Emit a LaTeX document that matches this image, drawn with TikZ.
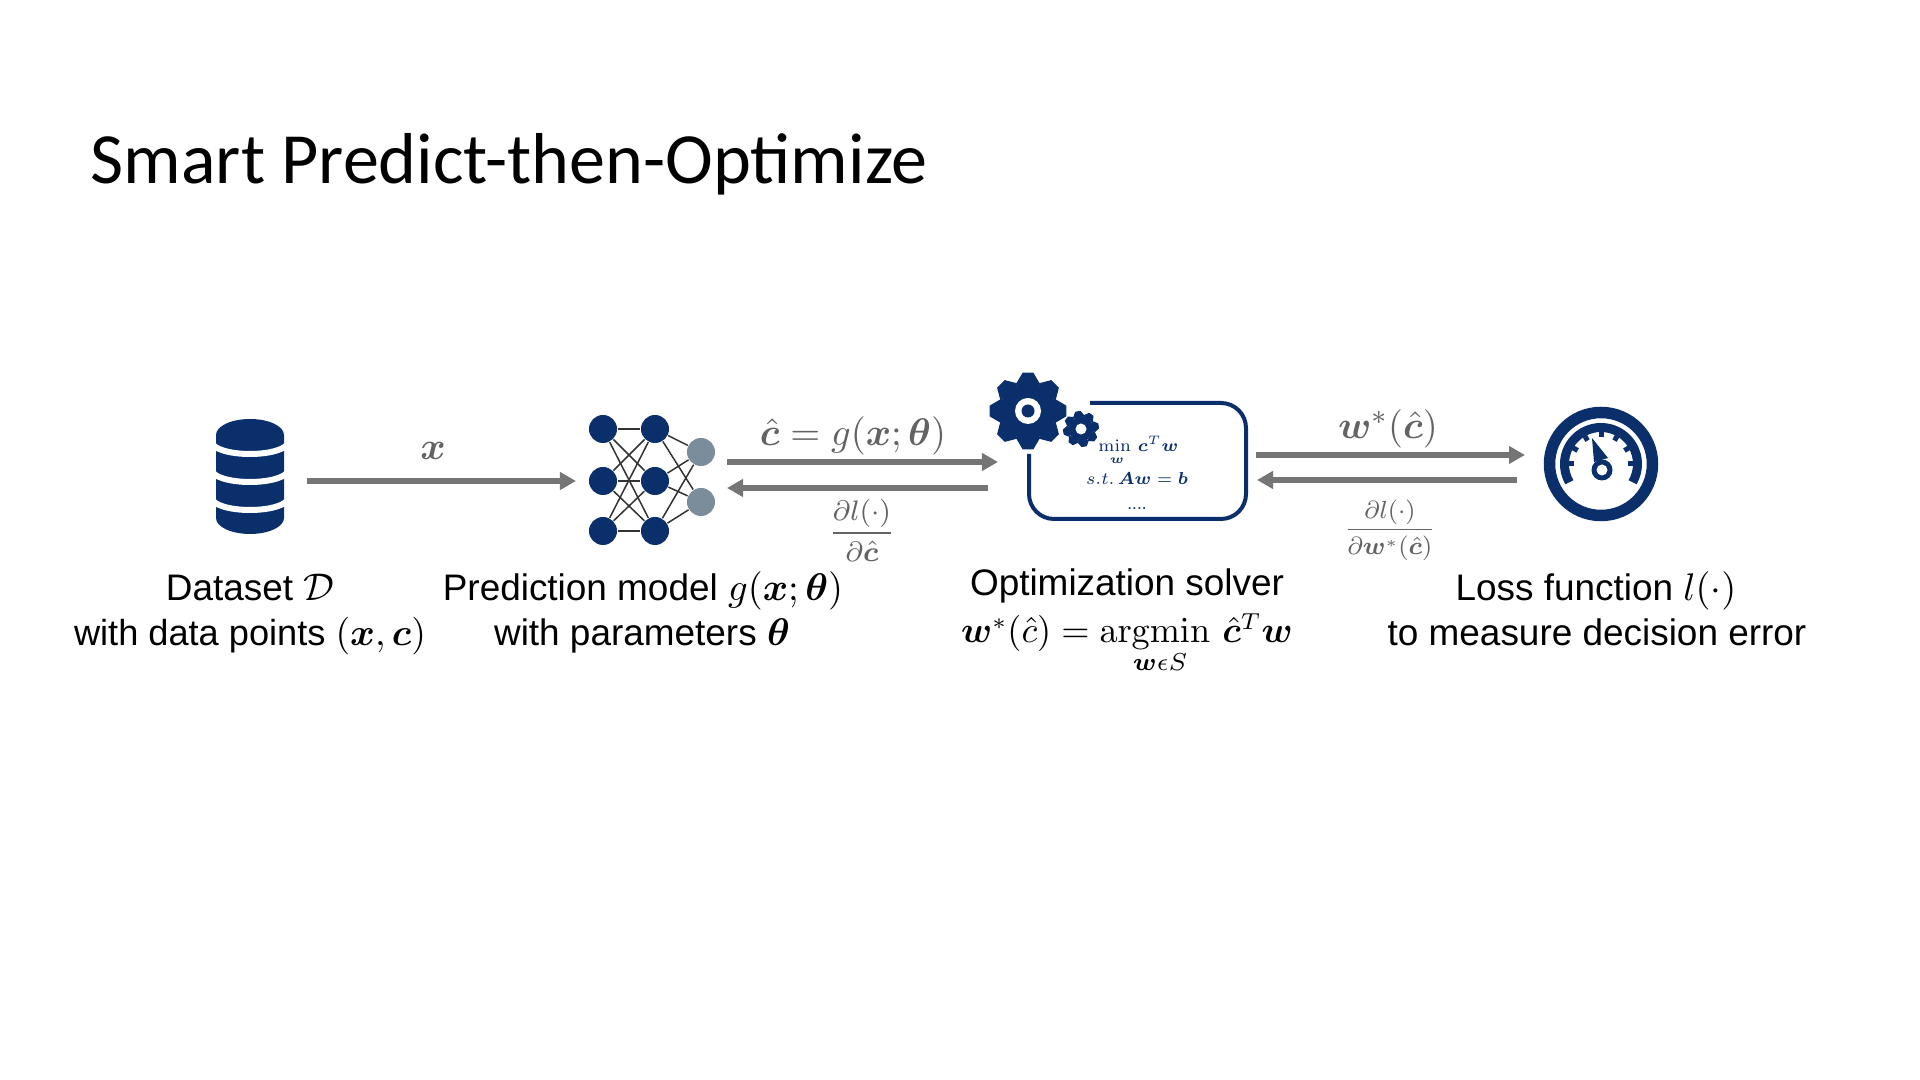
\documentclass[tikz,border=0pt]{standalone}
\usepackage{amsmath,bm}
\usepackage[no-math]{fontspec}
\setmainfont{Liberation Sans}
\newfontfamily\titlefont{Carlito}
\usetikzlibrary{arrows.meta,calc}
\definecolor{navy}{HTML}{0A2F6B}
\definecolor{slate}{HTML}{7B8C9B}
\definecolor{arrowgrey}{HTML}{757575}
\definecolor{edgegrey}{HTML}{333333}
\newcommand{\gearshape}[5]{% cx, cy, R, r, rotation
  \fill[navy] (#1,#2) circle ({#4});
  \foreach \a in {0,45,...,315}{
    \filldraw[navy,line width=0.01cm,line join=round,rotate around={\a+#5:(#1,#2)}]
      ($(#1,#2)+({-0.30*#3},{-0.68*#3})$) -- ($(#1,#2)+({-0.13*#3},{-0.97*#3})$) --
      ($(#1,#2)+({0.13*#3},{-0.97*#3})$) -- ($(#1,#2)+({0.30*#3},{-0.68*#3})$) -- cycle;
  }
}
\tikzset{
  flow/.style={draw=arrowgrey,line width=0.06cm,-{Triangle[length=0.16cm,width=0.17cm]}},
  caption/.style={font=\fontsize{10.5pt}{12pt}\selectfont,text=black,inner sep=0pt,anchor=base},
  mathlabel/.style={font=\fontsize{11pt}{13pt}\selectfont,text=arrowgrey!85!black,inner sep=0pt,anchor=center},
  fraclabel/.style={text=arrowgrey!85!black,inner sep=0pt,anchor=base},
  boxtext/.style={font=\fontsize{7pt}{8pt}\selectfont,scale=0.7,text=navy,inner sep=0pt,anchor=base},
  neuron/.style={circle,fill=navy,minimum size=0.28cm,inner sep=0pt},
  outneuron/.style={circle,fill=slate,minimum size=0.28cm,inner sep=0pt},
  nnedge/.style={draw=edgegrey,line width=0.015cm},
}
\begin{document}
\begin{tikzpicture}[x=0.01cm,y=-0.01cm]
\useasboundingbox (0,0) rectangle (1920,1080);
\fill[white] (0,0) rectangle (1920,1080);

\node[anchor=base west,inner sep=0pt,font=\titlefont\fontsize{20.5pt}{24pt}\selectfont] (title) at (90,184) {Smart Predict-then-Optimize};

% database
\fill[navy] (216,435) -- (216,518) arc[start angle=180,end angle=360,x radius=34,y radius=-16] -- (284,435)
  arc[start angle=0,end angle=180,x radius=34,y radius=-16] -- cycle;
\foreach \yy in {442,470,498}{
  \draw[white,line width=0.06cm] (212,\yy) arc[start angle=180,end angle=360,x radius=38,y radius=-12];
}

% neural network
\node[neuron] (n11) at (603,429) {};
\node[neuron] (n12) at (603,481) {};
\node[neuron] (n13) at (603,531) {};
\node[neuron] (n21) at (655,429) {};
\node[neuron] (n22) at (655,481) {};
\node[neuron] (n23) at (655,531) {};
\node[outneuron] (o1) at (701,452) {};
\node[outneuron] (o2) at (701,502) {};
\foreach \a in {n11,n12,n13}\foreach \b in {n21,n22,n23}{\draw[nnedge] (\a) -- (\b);}
\foreach \a in {n21,n22,n23}\foreach \b in {o1,o2}{\draw[nnedge] (\a) -- (\b);}

% arrows
\coordinate (a1s) at (307,481); \coordinate (a1e) at (576,481);
\coordinate (a2s) at (727,462); \coordinate (a2e) at (998,462);
\coordinate (a3s) at (988,488); \coordinate (a3e) at (727,488);
\coordinate (a4s) at (1256,455); \coordinate (a4e) at (1525,455);
\coordinate (a5s) at (1517,480); \coordinate (a5e) at (1257,480);
\draw[flow] (a1s) -- (a1e);
\draw[flow] (a2s) -- (a2e);
\draw[flow] (a3s) -- (a3e);
\draw[flow] (a4s) -- (a4e);
\draw[flow] (a5s) -- (a5e);

% solver box
\draw[navy,line width=0.04cm,rounded corners=0.25cm] (1090,403) -- (1246,403) -- (1246,519) -- (1029,519) -- (1029,454);
\gearshape{1028}{411}{39}{28}{0}
\fill[white] (1028,411) circle (13); \fill[navy] (1028,411) circle (6.5);
\fill[white] (1081,429) circle (19);
\gearshape{1081}{429}{18}{12.5}{10}
\fill[white] (1081,429) circle (5.5);

\node[boxtext,anchor=base west] (minw) at (1098,452) {$\min\,\bm{c}^{T}\bm{w}$};
\node[boxtext,font=\fontsize{5pt}{6pt}\selectfont,anchor=center] (minsub) at (1117,461) {$\bm{w}$};
\node[boxtext] (st) at (1137,485) {$s.t.\,\bm{A}\bm{w}=\bm{b}$};
\node[boxtext] (dots) at (1137,510) {....};

% gauge
\begin{scope}[shift={(1601,464)},y=0.01cm]
\draw[navy,line width=0.115cm] (0,0) circle (51.5);
\draw[navy,line width=0.09cm] (210:36.5) arc[start angle=210,end angle=-30,radius=36.5];
\foreach \a in {180,150,120,90,60,30,0}{
  \draw[navy,line width=0.05cm] (\a:34) -- (\a:27);
}
\fill[white] (-11,25) -- (-2,-4) -- (12,6) -- cycle;
\fill[navy] (-9,26) -- (-7,2) -- (7,6) -- cycle;
\fill[navy] (1,-6) circle (10.5);
\fill[white] (1,-6) circle (5.5);
\end{scope}

% labels
\node[mathlabel] (lx) at (433,451) {$\bm{x}$};
\node[mathlabel] (lc) at (853,436) {$\hat{\bm{c}}=g(\bm{x};\bm{\theta})$};
\node[fraclabel,font=\fontsize{8pt}{10pt}\selectfont] (lf1) at (862,540) {$\dfrac{\partial l(\cdot)}{\partial\hat{\bm{c}}}$};
\node[mathlabel] (lw) at (1388,429) {$\bm{w}^{*}(\hat{\bm{c}})$};
\node[fraclabel,font=\fontsize{7.8pt}{10pt}\selectfont,scale=0.88] (lf2) at (1390,536) {$\dfrac{\partial l(\cdot)}{\partial\bm{w}^{*}(\hat{\bm{c}})}$};

% captions
\node[caption] (c1a) at (250,601) {Dataset $\mathcal{D}$};
\node[caption,scale=0.98] (c1b) at (250,646) {with data points $(\bm{x},\bm{c})$};
\node[caption] (c2a) at (643,601) {Prediction model $g(\bm{x};\bm{\theta})$};
\node[caption] (c2b) at (642,646) {with parameters $\bm{\theta}$};
\node[caption] (c3a) at (1127,596) {Optimization solver};
\node[caption,scale=0.94] (c3b) at (1127,643) {$\bm{w}^{*}(\hat{c})=\operatorname{argmin}\,\hat{\bm{c}}^{T}\bm{w}$};
\node[caption,font=\fontsize{7.5pt}{9pt}\selectfont] (c3c) at (1160,671) {$\bm{w}\epsilon S$};
\node[caption] (c4a) at (1596,601) {Loss function $l(\cdot)$};
\node[caption] (c4b) at (1597,646) {to measure decision error};
\end{tikzpicture}
\end{document}
